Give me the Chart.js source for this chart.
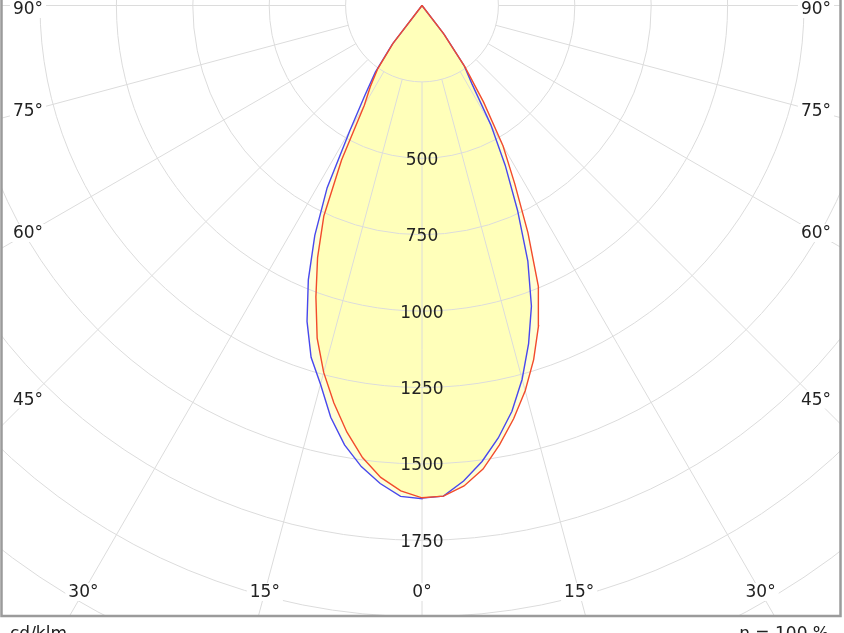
<!DOCTYPE html>
<html>
<head>
<meta charset="utf-8">
<script src="https://cdn.jsdelivr.net/npm/chart.js@4/dist/chart.umd.min.js"></script>
<style>
  html, body { margin: 0; padding: 0; background: #fff; }
  canvas { display: block; }
</style>
</head>
<body>
<canvas id="polarChart" width="844" height="633"></canvas>
<script>
// gamma angles (deg from nadir) and luminous intensity (cd/klm)
const gammaDeg  = [0, 2.5, 5, 7.5, 10, 12.5, 15, 17.5, 20, 22.5, 25, 27.5, 30, 32.5, 35, 37.5, 40, 60, 90];
const redLeft   = [1611, 1590, 1550, 1492, 1417, 1332, 1243, 1141, 1015, 893, 760, 570, 378, 315, 252, 155, 0, 0, 0];
const redRight  = [1611, 1607, 1578, 1530, 1460, 1385, 1305, 1215, 1115, 995, 820, 657, 530, 375, 245, 115, 0, 0, 0];
const blueLeft  = [1614, 1608, 1570, 1522, 1460, 1380, 1283, 1207, 1100, 972, 830, 672, 471, 347, 266, 160, 0, 0, 0];
const blueRight = [1612, 1607, 1562, 1505, 1437, 1360, 1266, 1160, 1047, 905, 740, 590, 450, 305, 240, 120, 0, 0, 0];

const ringValues = [250, 500, 750, 1000, 1250, 1500, 1750, 2000, 2250, 2500];
const ringLabels = [500, 750, 1000, 1250, 1500, 1750];
const rayAngles = [-90, -75, -60, -45, -30, -15, 0, 15, 30, 45, 60, 75, 90];

const FONT = '17px "DejaVu Sans", Verdana, sans-serif';

// turn one C-plane (left half + right half) into x/y points
function planePoints(left, right) {
    const pts = [];
    for (let i = gammaDeg.length - 1; i >= 0; i--) {
        const g = gammaDeg[i] * Math.PI / 180;
        pts.push({ x: -left[i] * Math.sin(g), y: -left[i] * Math.cos(g) });
    }
    for (let i = 0; i < gammaDeg.length; i++) {
        const g = gammaDeg[i] * Math.PI / 180;
        pts.push({ x: right[i] * Math.sin(g), y: -right[i] * Math.cos(g) });
    }
    return pts;
}

const pxPerCd = 76.4 / 250;
const centerX = 422, centerY = 5.5;
const frame = { left: 1.5, right: 840.5, bottom: 616 };

const polarGrid = {
    id: 'polarGrid',
    beforeDatasetsDraw(chart) {
        const { ctx, scales: { x, y } } = chart;
        const cx = x.getPixelForValue(0), cy = y.getPixelForValue(0);
        const k = x.getPixelForValue(1) - cx;
        ctx.save();
        ctx.beginPath();
        ctx.rect(frame.left, 0, frame.right - frame.left, frame.bottom);
        ctx.clip();
        ctx.strokeStyle = '#dcdcdc';
        ctx.lineWidth = 1;
        ringValues.forEach(r => {
            ctx.beginPath();
            ctx.arc(cx, cy, r * k, 0, Math.PI * 2);
            ctx.stroke();
        });
        rayAngles.forEach(a => {
            const t = a * Math.PI / 180;
            const dx = Math.sin(t), dy = Math.cos(t);
            const r0 = ringValues[0] * k, r1 = 3000 * k;
            ctx.beginPath();
            ctx.moveTo(cx + dx * r0, cy + dy * r0);
            ctx.lineTo(cx + dx * r1, cy + dy * r1);
            ctx.stroke();
        });
        ctx.restore();
    },
    afterDatasetsDraw(chart) {
        const { ctx, scales: { x, y } } = chart;
        const cx = x.getPixelForValue(0), cy = y.getPixelForValue(0);
        const k = x.getPixelForValue(1) - cx;
        ctx.save();
        ctx.font = FONT;
        ctx.fillStyle = '#222';
        ctx.textAlign = 'center';
        ctx.textBaseline = 'middle';

        // intensity labels down the 0 deg ray
        ringLabels.forEach(v => {
            ctx.fillText(String(v), cx, cy + v * k + 2);
        });

        // angle labels round the edge
        const inL = 28, inR = 816, inB = 592;
        rayAngles.forEach(a => {
            const t = a * Math.PI / 180;
            const dx = Math.sin(t), dy = Math.cos(t);
            let tt = Infinity;
            if (dx < -1e-6) tt = Math.min(tt, (cx - inL) / -dx);
            if (dx > 1e-6) tt = Math.min(tt, (inR - cx) / dx);
            if (dy > 1e-6) tt = Math.min(tt, (inB - cy) / dy);
            const px = cx + dx * tt;
            const py = Math.max(cy + dy * tt, 9);
            const txt = Math.abs(a) + '°';
            const w = ctx.measureText(txt).width;
            ctx.fillStyle = '#fff';
            ctx.fillRect(px - w / 2 - 3, py - 9, w + 6, 18);
            ctx.fillStyle = '#222';
            ctx.fillText(txt, px, py + 1);
        });

        // frame
        ctx.strokeStyle = '#9b9b9b';
        ctx.lineWidth = 2.5;
        ctx.strokeRect(frame.left, -10, frame.right - frame.left, frame.bottom + 10);

        // footer texts
        ctx.fillStyle = '#222';
        ctx.textBaseline = 'alphabetic';
        ctx.textAlign = 'left';
        ctx.fillText('cd/klm', 10, 639);
        ctx.textAlign = 'right';
        ctx.fillText('η = 100 %', 829, 639);
        ctx.restore();
    }
};

new Chart(document.getElementById('polarChart').getContext('2d'), {
    type: 'scatter',
    data: {
        datasets: [{
            label: 'C0 - C180',
            data: planePoints(redLeft, redRight),
            showLine: true,
            borderColor: '#f24b2c',
            borderWidth: 1.4,
            backgroundColor: 'rgba(255, 255, 120, 0.3)',
            fill: 'shape',
            pointRadius: 0,
            tension: 0
        }, {
            label: 'C90 - C270',
            data: planePoints(blueLeft, blueRight),
            showLine: true,
            borderColor: '#4848ee',
            borderWidth: 1.4,
            backgroundColor: 'rgba(255, 255, 120, 0.3)',
            fill: 'shape',
            pointRadius: 0,
            tension: 0
        }]
    },
    options: {
        responsive: false,
        animation: false,
        layout: { padding: 0 },
        plugins: {
            legend: { display: false },
            tooltip: { enabled: false },
            filler: { drawTime: 'beforeDatasetsDraw' }
        },
        scales: {
            x: { type: 'linear', display: false, min: -centerX / pxPerCd, max: (844 - centerX) / pxPerCd },
            y: { type: 'linear', display: false, min: -(633 - centerY) / pxPerCd, max: centerY / pxPerCd }
        }
    },
    plugins: [polarGrid]
});
</script>
</body>
</html>
